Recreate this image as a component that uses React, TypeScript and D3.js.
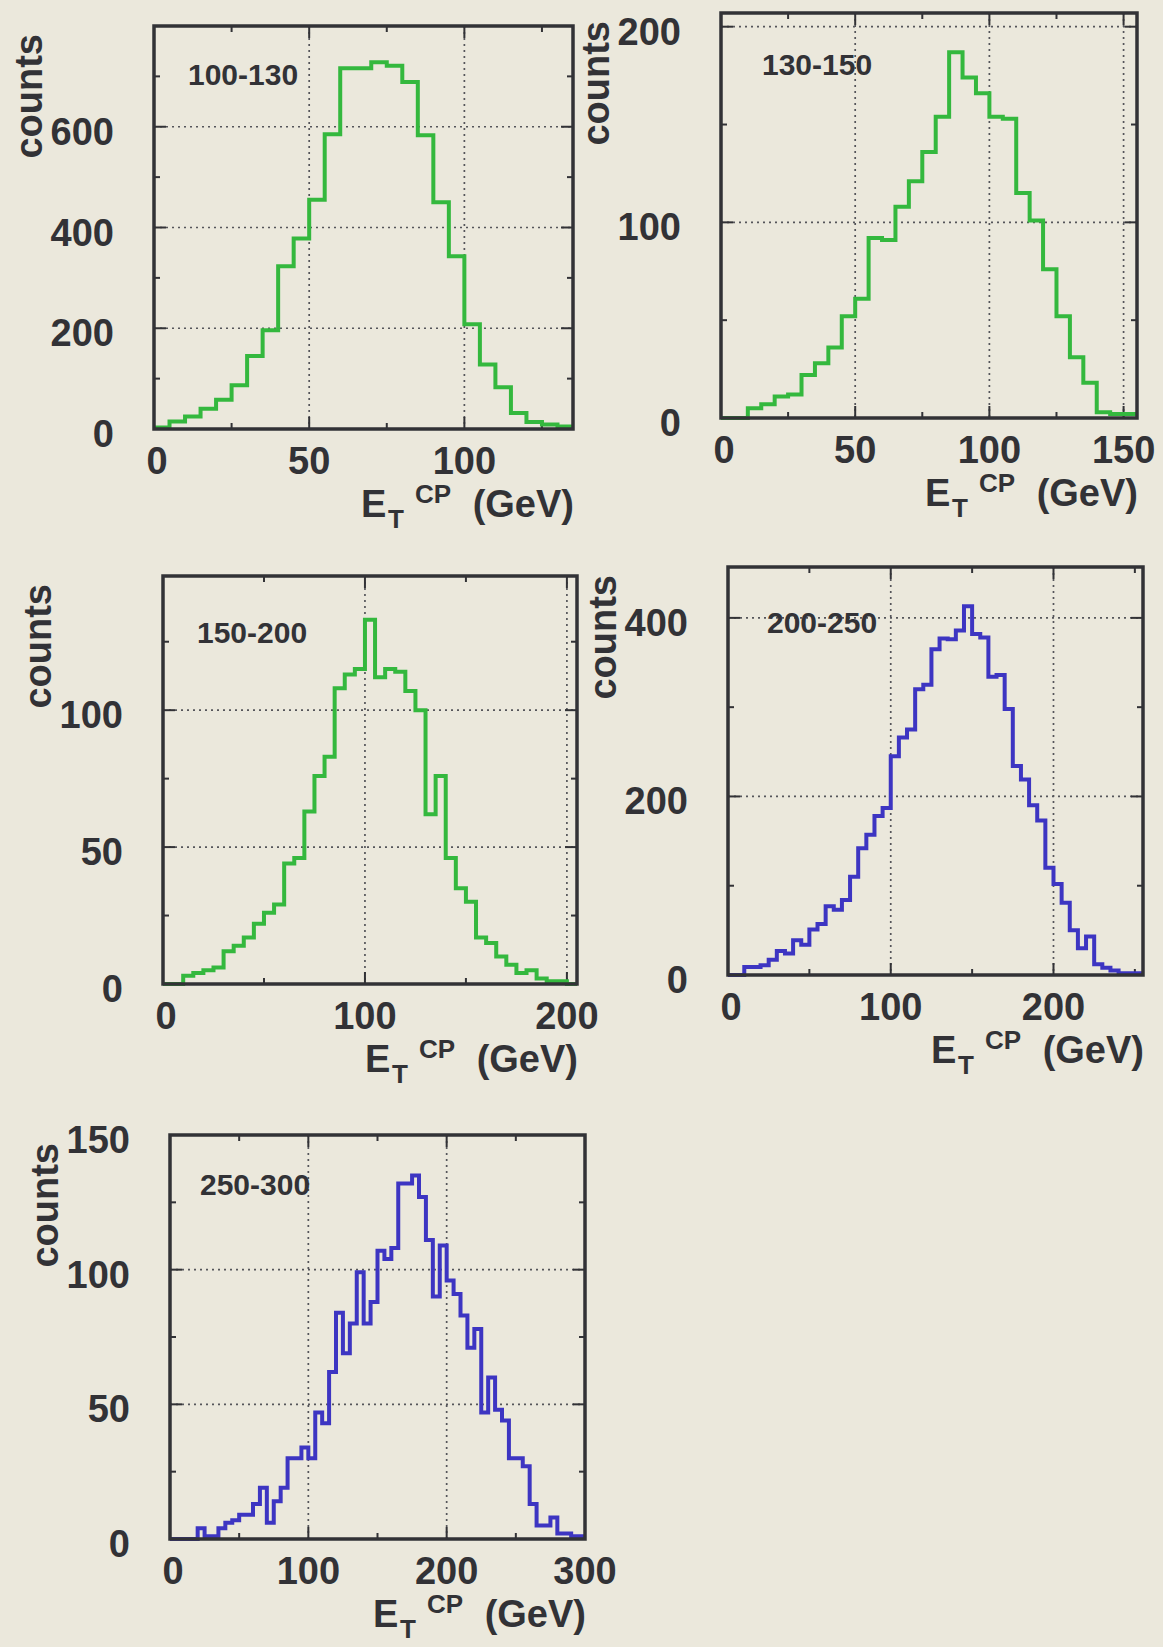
import React from "react";
import * as d3 from "d3";

// ---- data (counts per 5 GeV bin) ----
const BIN_WIDTH = 5;

const counts100to130 = [3, 15, 25, 40, 58, 87, 145, 196, 323, 378, 455, 585, 716, 716, 728, 721, 689, 583, 450, 343, 208, 128, 83, 32, 14, 9, 5];
const counts130to150 = [0, 0, 5, 7, 11, 12, 22, 28, 36, 52, 61, 92, 91, 108, 121, 136, 154, 187, 174, 166, 154, 153, 115, 101, 76, 52, 31, 18, 3, 2, 2];
const counts150to200 = [0, 0, 3, 4, 5, 6, 12, 14, 17, 22, 26, 29, 44, 46, 63, 76, 83, 108, 113, 115, 133, 112, 115, 114, 107, 100, 62, 76, 46, 35, 30, 17, 15, 10, 7, 4, 5, 2, 1, 1, 0];
const counts200to250 = [0, 0, 9, 9, 11, 17, 27, 24, 39, 34, 51, 57, 77, 73, 84, 110, 142, 157, 178, 187, 245, 266, 275, 320, 325, 365, 377, 376, 386, 413, 382, 378, 334, 336, 298, 234, 219, 190, 173, 120, 102, 81, 50, 30, 43, 12, 8, 5, 2, 2, 2];
const counts250to300 = [0, 0, 0, 0, 4, 1, 1, 4, 6, 7, 9, 9, 13, 19, 6, 14, 19, 30, 30, 34, 30, 47, 43, 62, 84, 69, 80, 99, 80, 88, 107, 104, 108, 132, 132, 135, 127, 111, 90, 109, 96, 91, 83, 71, 78, 47, 60, 48, 44, 30, 30, 27, 13, 5, 5, 8, 2, 2, 1, 1];

const labels = ["100-130", "130-150", "150-200", "200-250", "250-300"];

const xTickLabels1 = [0, 50, 100];
const xTickLabels2 = [0, 50, 100, 150];
const xTickLabels3 = [0, 100, 200];
const xTickLabels4 = [0, 100, 200];
const xTickLabels5 = [0, 100, 200, 300];

const yTickLabels1 = [0, 200, 400, 600];
const yTickLabels2 = [0, 100, 200];
const yTickLabels3 = [0, 50, 100];
const yTickLabels4 = [0, 200, 400];
const yTickLabels5 = [0, 50, 100, 150];

// ---- styling / layout ----
const BG = "#ebe8dc";
const INK = "#323236";
const GRID = "#55555a";
const GREEN = "#34b83e";
const BLUE = "#3d35c2";
const FONT = "'Liberation Sans', Arial, Helvetica, sans-serif";

type Spec = {
  label: string;
  counts: number[];
  xMax: number;
  yMax: number;
  xMajor: number;
  yMajor: number;
  xLabels: number[];
  yLabels: number[];
  color: string;
  frame: { x: number; y: number; w: number; h: number };
  labelOff: [number, number];
};

const specs: Spec[] = [
  { label: labels[0], counts: counts100to130, xMax: 135, yMax: 800, xMajor: 50, yMajor: 200, xLabels: xTickLabels1, yLabels: yTickLabels1, color: GREEN, frame: { x: 154, y: 26, w: 419, h: 403 }, labelOff: [34, 59] },
  { label: labels[1], counts: counts130to150, xMax: 155, yMax: 207, xMajor: 50, yMajor: 100, xLabels: xTickLabels2, yLabels: yTickLabels2, color: GREEN, frame: { x: 721, y: 13, w: 416, h: 405 }, labelOff: [41, 62] },
  { label: labels[2], counts: counts150to200, xMax: 205, yMax: 149, xMajor: 100, yMajor: 50, xLabels: xTickLabels3, yLabels: yTickLabels3, color: GREEN, frame: { x: 163, y: 576, w: 414, h: 408 }, labelOff: [34, 67] },
  { label: labels[3], counts: counts200to250, xMax: 255, yMax: 457, xMajor: 100, yMajor: 200, xLabels: xTickLabels4, yLabels: yTickLabels4, color: BLUE, frame: { x: 728, y: 567, w: 415, h: 408 }, labelOff: [39, 66] },
  { label: labels[4], counts: counts250to300, xMax: 300, yMax: 150, xMajor: 100, yMajor: 50, xLabels: xTickLabels5, yLabels: yTickLabels5, color: BLUE, frame: { x: 170, y: 1135, w: 415, h: 404 }, labelOff: [30, 60] },
];

function Panel({ s }: { s: Spec }) {
  const { frame } = s;
  const L = frame.x, R = frame.x + frame.w, T = frame.y, B = frame.y + frame.h;
  const x = d3.scaleLinear().domain([0, s.xMax]).range([L, R]);
  const y = d3.scaleLinear().domain([0, s.yMax]).range([B, T]);

  const pts: [number, number][] = s.counts.map((c, i) => [i * BIN_WIDTH, c]);
  pts.push([s.counts.length * BIN_WIDTH, s.counts[s.counts.length - 1]]);
  const line = d3
    .line<[number, number]>()
    .x((d) => x(d[0]))
    .y((d) => y(d[1]))
    .curve(d3.curveStepAfter);

  const xMaj = d3.range(0, s.xMax + 1e-6, s.xMajor);
  const xMin = d3.range(0, s.xMax + 1e-6, s.xMajor / 2).filter((v) => !xMaj.includes(v));
  const yMaj = d3.range(0, s.yMax + 1e-6, s.yMajor);
  const yMin = d3.range(0, s.yMax + 1e-6, s.yMajor / 2).filter((v) => !yMaj.includes(v));

  const MAJ = 12, MIN = 6;
  const tickStyle = { stroke: INK, strokeWidth: 2 };

  return (
    <g>
      {/* grid */}
      {xMaj.filter((v) => v > 0 && v < s.xMax).map((v) => (
        <line key={"gx" + v} x1={x(v)} x2={x(v)} y1={T} y2={B} stroke={GRID} strokeWidth={1.7} strokeDasharray="2,4" />
      ))}
      {yMaj.filter((v) => v > 0 && v < s.yMax).map((v) => (
        <line key={"gy" + v} x1={L} x2={R} y1={y(v)} y2={y(v)} stroke={GRID} strokeWidth={1.7} strokeDasharray="2,4" />
      ))}
      {/* ticks */}
      {xMaj.map((v) => (
        <g key={"tx" + v}>
          <line x1={x(v)} x2={x(v)} y1={B} y2={B - MAJ} {...tickStyle} />
          <line x1={x(v)} x2={x(v)} y1={T} y2={T + MAJ} {...tickStyle} />
        </g>
      ))}
      {xMin.map((v) => (
        <g key={"tmx" + v}>
          <line x1={x(v)} x2={x(v)} y1={B} y2={B - MIN} {...tickStyle} />
          <line x1={x(v)} x2={x(v)} y1={T} y2={T + MIN} {...tickStyle} />
        </g>
      ))}
      {yMaj.map((v) => (
        <g key={"ty" + v}>
          <line x1={L} x2={L + MAJ} y1={y(v)} y2={y(v)} {...tickStyle} />
          <line x1={R} x2={R - MAJ} y1={y(v)} y2={y(v)} {...tickStyle} />
        </g>
      ))}
      {yMin.map((v) => (
        <g key={"tmy" + v}>
          <line x1={L} x2={L + MIN} y1={y(v)} y2={y(v)} {...tickStyle} />
          <line x1={R} x2={R - MIN} y1={y(v)} y2={y(v)} {...tickStyle} />
        </g>
      ))}
      {/* histogram */}
      <path d={line(pts) || ""} fill="none" stroke={s.color} strokeWidth={4} strokeLinejoin="miter" />
      {/* frame */}
      <rect x={L} y={T} width={frame.w} height={frame.h} fill="none" stroke={INK} strokeWidth={3.5} />
      {/* panel label */}
      <text x={L + s.labelOff[0]} y={T + s.labelOff[1]} fontSize={30} fontWeight="bold" fill={INK}>
        {s.label}
      </text>
      {/* tick labels */}
      {s.xLabels.map((v) => (
        <text key={"lx" + v} x={x(v) + (v === 0 ? 3 : 0)} y={B + 45} textAnchor="middle" fontSize={38} fontWeight="bold" fill={INK}>
          {v}
        </text>
      ))}
      {s.yLabels.map((v) => (
        <text key={"ly" + v} x={L - 40} y={y(v) + 18} textAnchor="end" fontSize={38} fontWeight="bold" fill={INK}>
          {v}
        </text>
      ))}
      {/* y title */}
      <text transform={`translate(${L - 112},${T + 8}) rotate(-90)`} textAnchor="end" fontSize={38} fontWeight="bold" fill={INK}>
        counts
      </text>
      {/* x title */}
      <g fontWeight="bold" fill={INK}>
        <text x={R - 212} y={B + 88} fontSize={38}>E</text>
        <text x={R - 185} y={B + 99} fontSize={26}>T</text>
        <text x={R - 158} y={B + 74} fontSize={26}>CP</text>
        <text x={R + 1} y={B + 88} fontSize={38} textAnchor="end">(GeV)</text>
      </g>
    </g>
  );
}

export default function App() {
  return (
    <svg
      width={1163}
      height={1647}
      style={{ position: "absolute", left: 0, top: 0, display: "block" }}
      fontFamily={FONT}
    >
      <rect x={0} y={0} width={1163} height={1647} fill={BG} />
      {specs.map((s) => (
        <Panel key={s.label} s={s} />
      ))}
    </svg>
  );
}
